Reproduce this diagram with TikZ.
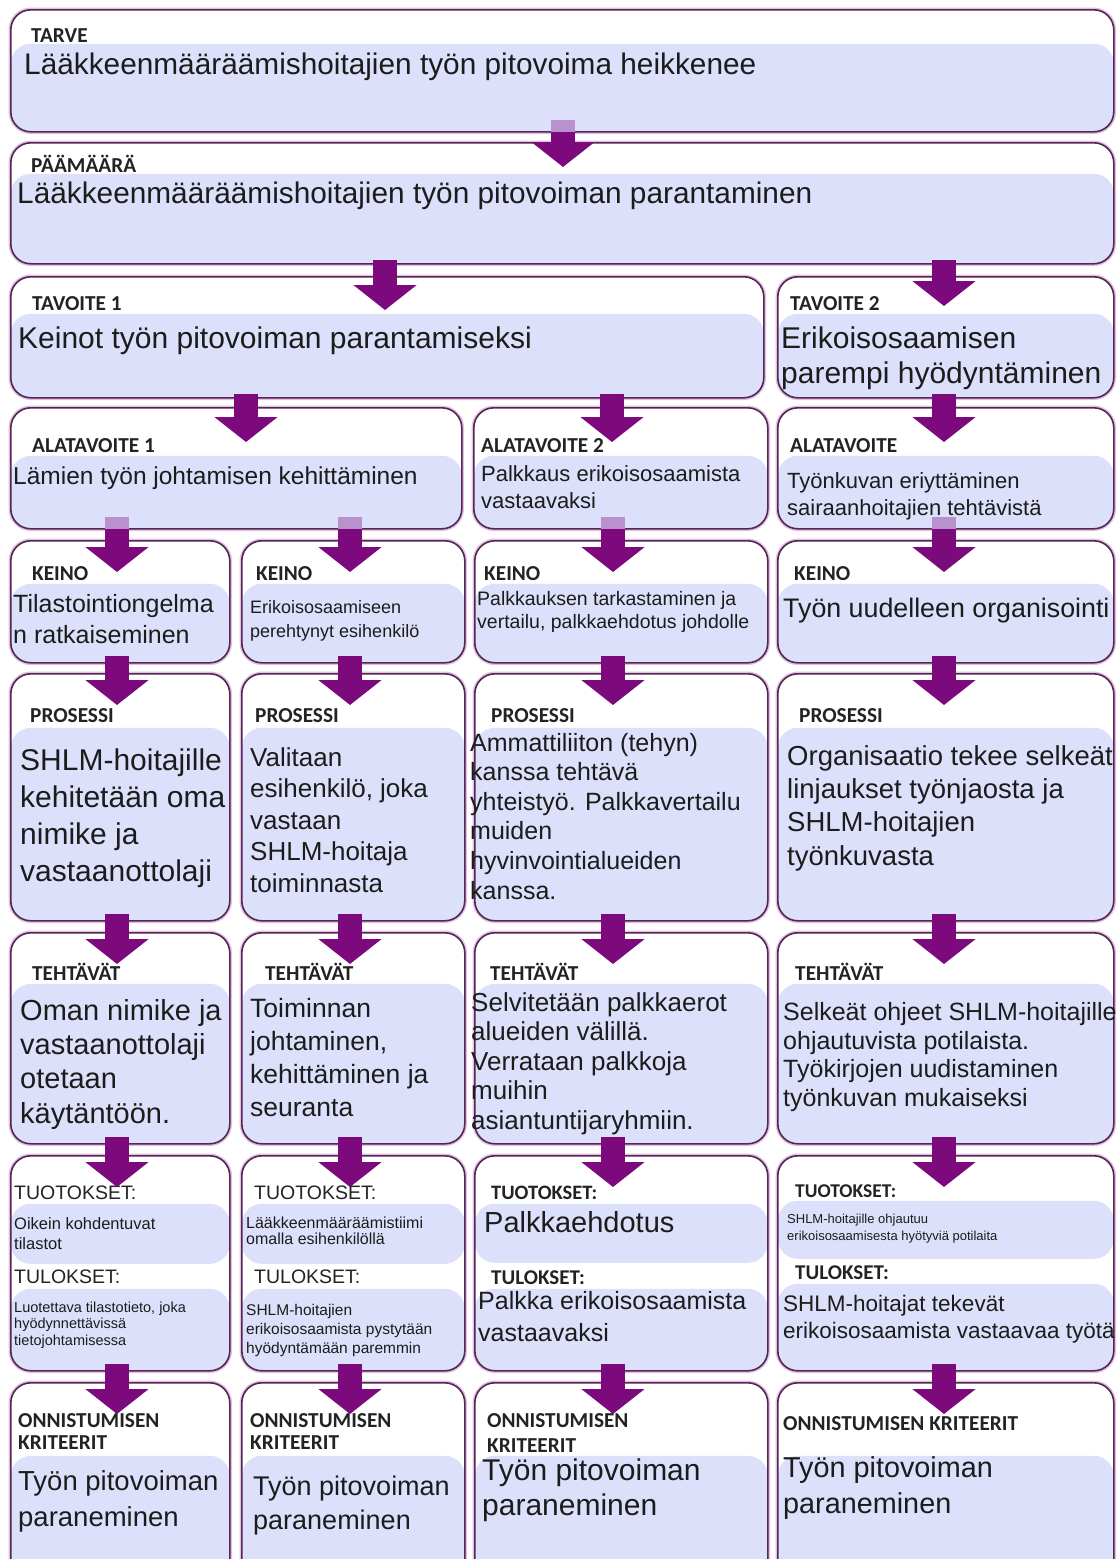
\documentclass[tikz,border=0pt]{standalone}
\usepackage{fontspec}
\setmainfont{Liberation Sans}
\newfontfamily\lblfont{Carlito}
\usetikzlibrary{arrows.meta}
\definecolor{lav}{RGB}{221,224,250}
\definecolor{bord}{RGB}{80,40,80}
\definecolor{glow}{RGB}{228,190,228}
\definecolor{arrc}{RGB}{125,10,125}
\definecolor{arrl}{RGB}{185,145,205}
\definecolor{txt}{RGB}{28,28,28}
\definecolor{lbltxt}{RGB}{35,35,35}
\newcommand\fs[2]{\fontsize{#1pt}{#2pt}\selectfont}
\newcommand\mkbox[6]{\node[box=#6, minimum width={#4pt-#2pt}, minimum height={#5pt-#3pt}] (#1) at (#2,#3) {};}
\newcommand\mkboxb[8]{\node[boxb={#6}{#7}{#8}, minimum width={#4pt-#2pt}, minimum height={#5pt-#3pt}] (#1) at (#2,#3) {};}
\begin{document}
\begin{tikzpicture}[x=1pt,y=-1pt,
  box/.style={draw=bord, line width=1.6pt, rounded corners=20pt, fill=white, inner sep=0pt, anchor=north west,
    preaction={draw=glow, line width=4.5pt},
    path picture={\fill[lav] ([yshift=-#1pt]path picture bounding box.north west) rectangle (path picture bounding box.south east);}},
  boxb/.style n args={3}{draw=bord, line width=1.6pt, rounded corners=20pt, fill=white, inner sep=0pt, anchor=north west,
    preaction={draw=glow, line width=4.5pt},
    path picture={\fill[lav] ([yshift=-#1pt]path picture bounding box.north west) rectangle ([yshift=-#2pt]path picture bounding box.north east);
      \fill[lav] ([yshift=-#3pt]path picture bounding box.north west) rectangle (path picture bounding box.south east);}},
  lbl/.style={font=\lblfont\bfseries\fs{21.3}{22}, text=lbltxt, inner sep=0pt, anchor=base west, align=left},
  body/.style={text=txt, inner sep=0pt, anchor=base west, align=left},
  arr/.style={draw=arrc, line width=24pt, -{Triangle[length=25pt,width=62pt]}},
  lt/.style={fill=arrl}
]
\useasboundingbox (0,0) rectangle (1117,1559);
\clip (0,0) rectangle (1117,1559);

% ---------- boxes ----------
\mkbox{tarve}{10}{9}{1113}{131}{34}
\mkbox{pm}{10}{142}{1113}{263}{31}
\mkbox{t1}{10}{276}{763}{397}{37}
\mkbox{t2}{777}{276}{1113}{397}{37}
\mkbox{a1}{10}{407}{461}{528}{48}
\mkbox{a2}{473}{407}{767}{528}{48}
\mkbox{a3}{777}{407}{1113}{528}{48}
\mkbox{k1}{10}{540}{229}{662}{43}
\mkbox{k2}{241}{540}{464}{662}{43}
\mkbox{k3}{474}{540}{767}{662}{43}
\mkbox{k4}{777}{540}{1113}{662}{43}
\mkbox{p1}{10}{673}{229}{920}{54}
\mkbox{p2}{241}{673}{464}{920}{54}
\mkbox{p3}{474}{673}{767}{920}{54}
\mkbox{p4}{777}{673}{1113}{920}{54}
\mkbox{e1}{10}{932}{229}{1143}{51}
\mkbox{e2}{241}{932}{464}{1143}{51}
\mkbox{e3}{474}{932}{767}{1143}{51}
\mkbox{e4}{777}{932}{1113}{1143}{51}
\mkboxb{o1}{10}{1155}{229}{1370}{48}{108}{133}
\mkboxb{o2}{241}{1155}{464}{1370}{48}{108}{133}
\mkboxb{o3}{474}{1155}{767}{1370}{48}{107}{133}
\mkboxb{o4}{777}{1155}{1113}{1370}{45}{103}{128}
\mkbox{s1}{10}{1382}{229}{1590}{73}
\mkbox{s2}{241}{1382}{464}{1590}{73}
\mkbox{s3}{474}{1382}{767}{1590}{73}
\mkbox{s4}{777}{1382}{1113}{1590}{73}

% ---------- texts (multi-line nodes: anchor at the baseline of the LAST line) ----------
\node[lbl] (tarveL) at (31,42) {TARVE};
\node[body, font=\fs{29.8}{35}] (tarveB) at (24,74) {Lääkkeenmääräämishoitajien työn pitovoima heikkenee};
\node[lbl] (pmL) at (31,172) {PÄÄMÄÄRÄ};
\node[body, font=\fs{29.8}{35}] (pmB) at (17,203) {Lääkkeenmääräämishoitajien työn pitovoiman parantaminen};

\node[lbl] (t1L) at (32,310) {TAVOITE 1};
\node[body, font=\fs{30}{35}] (t1B) at (18,348) {Keinot työn pitovoiman parantamiseksi};
\node[lbl] (t2L) at (790,310) {TAVOITE 2};
\node[body, font=\fs{30}{35}] (t2B) at (781,383) {Erikoisosaamisen\\parempi hyödyntäminen};

\node[lbl] (a1L) at (32,452) {ALATAVOITE 1};
\node[body, font=\fs{24.5}{29}] (a1B) at (13,484) {Lämien työn johtamisen kehittäminen};
\node[lbl] (a2L) at (481,452) {ALATAVOITE 2};
\node[body, font=\fs{22}{27}] (a2B) at (481,508) {Palkkaus erikoisosaamista\\vastaavaksi};
\node[lbl] (a3L) at (790,452) {ALATAVOITE};
\node[body, font=\fs{22}{27}] (a3B) at (787,515) {Työnkuvan eriyttäminen\\sairaanhoitajien tehtävistä};

\node[lbl] (k1L) at (32,580) {KEINO};
\node[body, font=\fs{25}{31}] (k1B) at (13,643) {Tilastointiongelma\\n ratkaiseminen};
\node[lbl] (k2L) at (256,580) {KEINO};
\node[body, font=\fs{18}{24}] (k2B) at (250,637) {Erikoisosaamiseen\\perehtynyt esihenkilö};
\node[lbl] (k3L) at (484,580) {KEINO};
\node[body, font=\fs{19.5}{23}] (k3B) at (477,628) {Palkkauksen tarkastaminen ja\\vertailu, palkkaehdotus johdolle};
\node[lbl] (k4L) at (794,580) {KEINO};
\node[body, font=\fs{26.8}{31}] (k4B) at (783,617) {Työn uudelleen organisointi};

\node[lbl] (p1L) at (30,722) {PROSESSI};
\node[body, font=\fs{30}{36.7}] (p1B) at (20,881) {SHLM-hoitajille\\kehitetään oma\\nimike ja\\vastaanottolaji};
\node[lbl] (p2L) at (255,722) {PROSESSI};
\node[body, font=\fs{26}{31.5}] (p2B) at (250,892) {Valitaan\\esihenkilö, joka\\vastaan\\SHLM-hoitaja\\toiminnasta};
\node[lbl] (p3L) at (491,722) {PROSESSI};
\node[body, font=\fs{25}{29.6}] (p3B) at (470,899) {Ammattiliiton (tehyn)\\kanssa tehtävä\\yhteistyö. Palkkavertailu\\muiden\\hyvinvointialueiden\\kanssa.};
\node[lbl] (p4L) at (799,722) {PROSESSI};
\node[body, font=\fs{27.5}{33.3}] (p4B) at (787,865) {Organisaatio tekee selkeät\\linjaukset työnjaosta ja\\SHLM-hoitajien\\työnkuvasta};

\node[lbl] (e1L) at (32,980) {TEHTÄVÄT};
\node[body, font=\fs{29}{34.3}] (e1B) at (20,1123) {Oman nimike ja\\vastaanottolaji\\otetaan\\käytäntöön.};
\node[lbl] (e2L) at (265,980) {TEHTÄVÄT};
\node[body, font=\fs{26.5}{33}] (e2B) at (250,1116) {Toiminnan\\johtaminen,\\kehittäminen ja\\seuranta};
\node[lbl] (e3L) at (490,980) {TEHTÄVÄT};
\node[body, font=\fs{26}{29.5}] (e3B) at (471,1129) {Selvitetään palkkaerot\\alueiden välillä.\\Verrataan palkkoja\\muihin\\asiantuntijaryhmiin.};
\node[lbl] (e4L) at (795,980) {TEHTÄVÄT};
\node[body, font=\fs{25}{28.5}] (e4B) at (783,1106) {Selkeät ohjeet SHLM-hoitajille\\ohjautuvista potilaista.\\Työkirjojen uudistaminen\\työnkuvan mukaiseksi};

\node[body, font=\fs{19.5}{20}, text=lbltxt] (o1L) at (14,1199) {TUOTOKSET:};
\node[body, font=\fs{16.5}{20}] (o1B) at (14,1249) {Oikein kohdentuvat\\tilastot};
\node[body, font=\fs{19.5}{20}, text=lbltxt] (o1M) at (14,1283) {TULOKSET:};
\node[body, font=\fs{14.5}{16.5}] (o1C) at (14,1345) {Luotettava tilastotieto, joka\\hyödynnettävissä\\tietojohtamisessa};

\node[body, font=\fs{19.5}{20}, text=lbltxt] (o2L) at (254,1199) {TUOTOKSET:};
\node[body, font=\fs{16}{16.5}] (o2B) at (246,1244.5) {Lääkkeenmääräämistiimi\\omalla esihenkilöllä};
\node[body, font=\fs{19.5}{20}, text=lbltxt] (o2M) at (254,1283) {TULOKSET:};
\node[body, font=\fs{15.5}{19}] (o2C) at (246,1353) {SHLM-hoitajien\\erikoisosaamista pystytään\\hyödyntämään paremmin};

\node[lbl, font=\lblfont\bfseries\fs{20.5}{22}] (o3L) at (491,1199) {TUOTOKSET:};
\node[body, font=\fs{29}{32}] (o3B) at (484,1232) {Palkkaehdotus};
\node[lbl, font=\lblfont\bfseries\fs{21}{22}] (o3M) at (491,1284) {TULOKSET:};
\node[body, font=\fs{25}{32}] (o3C) at (478,1341) {Palkka erikoisosaamista\\vastaavaksi};

\node[lbl, font=\lblfont\bfseries\fs{19.5}{22}] (o4L) at (795,1197) {TUOTOKSET:};
\node[body, font=\fs{13}{17}] (o4B) at (787,1240) {SHLM-hoitajille ohjautuu\\erikoisosaamisesta hyötyviä potilaita};
\node[lbl, font=\lblfont\bfseries\fs{21}{22}] (o4M) at (795,1279) {TULOKSET:};
\node[body, font=\fs{22.5}{27}] (o4C) at (783,1338) {SHLM-hoitajat tekevät\\erikoisosaamista vastaavaa työtä};

\node[lbl] (s1L) at (18,1449) {ONNISTUMISEN\\KRITEERIT};
\node[body, font=\fs{27.5}{36}] (s1B) at (18,1526) {Työn pitovoiman\\paraneminen};
\node[lbl] (s2L) at (250,1449) {ONNISTUMISEN\\KRITEERIT};
\node[body, font=\fs{27}{34}] (s2B) at (253,1529) {Työn pitovoiman\\paraneminen};
\node[lbl, font=\lblfont\bfseries\fs{21.3}{25}] (s3L) at (487,1452) {ONNISTUMISEN\\KRITEERIT};
\node[body, font=\fs{30}{35}] (s3B) at (482,1515) {Työn pitovoiman\\paraneminen};
\node[lbl] (s4L) at (783,1430) {ONNISTUMISEN KRITEERIT};
\node[body, font=\fs{28.8}{36}] (s4B) at (783,1513) {Työn pitovoiman\\paraneminen};

% ---------- arrow columns ----------
\coordinate (xa) at (563,0);
\coordinate (xb) at (385,0);
\coordinate (xc) at (944,0);
\coordinate (xd) at (246,0);
\coordinate (xe) at (612,0);
\coordinate (c1) at (117,0);
\coordinate (c2) at (350,0);
\coordinate (c3) at (613,0);
\coordinate (c4) at (944,0);

% ---------- arrows ----------
\draw[arr] ([yshift=13pt]tarve.south -| xa) -- ([yshift=-25pt]pm.north -| xa);
\fill[lt] ([xshift=-12pt,yshift=13pt]tarve.south -| xa) rectangle ([xshift=12pt,yshift=1pt]tarve.south -| xa);

\draw[arr] ([yshift=5pt]pm.south -| xb) -- ([yshift=-34pt]t1.north -| xb);
\draw[arr] ([yshift=5pt]pm.south -| xc) -- ([yshift=-30pt]t2.north -| xc);

\draw[arr] ([yshift=5pt]t1.south -| xd) -- ([yshift=-35pt]a1.north -| xd);
\draw[arr] ([yshift=5pt]t1.south -| xe) -- ([yshift=-35pt]a2.north -| xe);
\draw[arr] ([yshift=5pt]t2.south -| xc) -- ([yshift=-35pt]a3.north -| xc);

\draw[arr] ([yshift=13pt]a1.south -| c1) -- ([yshift=-32pt]k1.north -| c1);
\draw[arr] ([yshift=13pt]a1.south -| c2) -- ([yshift=-32pt]k2.north -| c2);
\draw[arr] ([yshift=13pt]a2.south -| c3) -- ([yshift=-32pt]k3.north -| c3);
\draw[arr] ([yshift=13pt]a3.south -| c4) -- ([yshift=-32pt]k4.north -| c4);
\foreach \bx/\cx in {a1/c1,a1/c2,a2/c3,a3/c4}
  \fill[lt] ([xshift=-12pt,yshift=13pt]\bx.south -| \cx) rectangle ([xshift=12pt,yshift=1pt]\bx.south -| \cx);

\foreach \u/\l/\cx in {k1/p1/c1,k2/p2/c2,k3/p3/c3,k4/p4/c4,
                       p1/e1/c1,p2/e2/c2,p3/e3/c3,p4/e4/c4,
                       e1/o1/c1,e2/o2/c2,e3/o3/c3,e4/o4/c4,
                       o1/s1/c1,o2/s2/c2,o3/s3/c3,o4/s4/c4}
  \draw[arr] ([yshift=8pt]\u.south -| \cx) -- ([yshift=-32pt]\l.north -| \cx);
\end{tikzpicture}
\end{document}
